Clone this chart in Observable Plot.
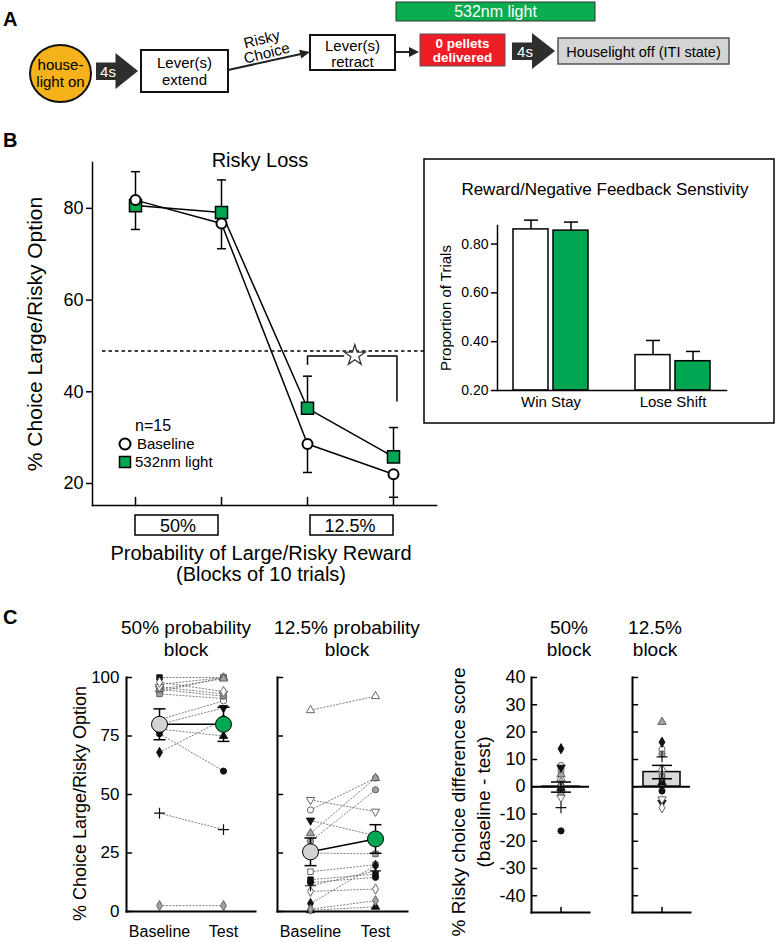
<!DOCTYPE html>
<html><head><meta charset="utf-8">
<script src="https://cdn.jsdelivr.net/npm/d3@7"></script>
<script src="https://cdn.jsdelivr.net/npm/@observablehq/plot@0.6"></script>
<style>
html,body{margin:0;padding:0;background:#fff;}
#fig{position:relative;width:775px;height:942px;overflow:hidden;background:#fff;font-family:'Liberation Sans',Arial,Helvetica,sans-serif;}
</style></head><body><div id="fig"></div>
<script>
// ---------------- DATA ----------------
// Panel B: risky choice per probability block (two choice points per block)
const bPoints = [1, 2, 3, 4];
const bBlockLabels = ["50%", "12.5%"];
const bBaseline = [81.8, 76.7, 28.6, 22.0];
const bBaselineSem = [6.4, 5.5, 6.2, 5.0];
const bLight = [80.6, 79.1, 36.4, 25.8];
const bLightSem = [7.4, 7.1, 7.0, 6.4];
const bChance = 48.9;
const bYTicks = [20, 40, 60, 80];
const bSigBracketL = [{x: 3, y: 46.0}, {x: 3, y: 47.8}, {x: 3.42, y: 47.8}];
const bSigBracketR = [{x: 3.70, y: 47.8}, {x: 4.04, y: 47.8}, {x: 4.04, y: 38.0}];
const bSigStar = [{x: 3.55, y: 47.9}];

// Inset: reward / negative feedback sensitivity
const fbCategories = ["Win Stay", "Lose Shift"];
const fbBaseline = [0.86, 0.345];
const fbBaselineSem = [0.038, 0.06];
const fbLight = [0.855, 0.32];
const fbLightSem = [0.035, 0.04];
const fbTicks = [0.2, 0.4, 0.6, 0.8];

// Panel C: individual subjects (15 rats)
const subjShape = ["square","square","square","circle","circle","circle","triangle","triangle","triangle","triangleDown","triangleDown","diamond","diamond","diamond","plus"];
const subjTone  = ["black","white","gray","black","white","gray","black","white","gray","black","white","black","white","gray","black"];
const conditions = ["Baseline", "Test"];
const base50 = [100, 94, 93, 76, 82, 95, 78, 97, 95, 80, 96, 68, 98, 2.5, 42];
const test50 = [100, 100, 91, 60, 90, 92, 75, 100, 99.5, 87, 93, 82, 94, 2.5, 35];
const mean50 = [80, 80];
const sem50 = [6.6, 7.3];
const base125 = [13.6, 17.0, 25.0, 12.4, 43.4, 30.0, 0.5, 86.0, 33.4, 38.9, 47.7, 3.4, 8.6, 1.0, 11.0];
const test125 = [16.0, 20.0, 24.6, 14.6, 57.0, 52.0, 2.0, 92.0, 57.0, 32.4, 42.7, 19.7, 9.6, 4.6, 17.4];
const mean125 = [25.5, 31.0];
const sem125 = [5.9, 6.1];
const cTicks = [0, 25, 50, 75, 100];

// Difference scores
const diffBlocks = ["50%", "12.5%"];
const diff50 = [0, 6, -1.6, -16.2, 7.8, -2.8, -0.5, 3, 4.5, 7, -4, 13.9, 1.5, 0.5, -7.7];
const diff125 = [2.7, 5.1, 0.6, -1.6, 13.7, 12, 1.5, 6.5, 23.7, -5.9, -4.6, 16.3, -7.7, 3.9, 10.9];
const diffMean = [-0.15, 5.35];
const diffSem = [1.85, 2.45];
const dTicks = [-40, -30, -20, -10, 0, 10, 20, 30, 40];

// ---------------- STYLE HELPERS ----------------
const FONT = "'Liberation Sans', Arial, Helvetica, sans-serif";
const GREEN = "#00a651";
const SVGSTYLE = `background:transparent;overflow:visible;font-family:${FONT};color:black;`;
const toneFill = {black: "#111", gray: "#a3a3a3", white: "#fff"};
const toneStroke = {black: "#111", gray: "#555", white: "#555"};
const shapeSymbol = {circle: "circle", square: "square", triangle: "triangle", triangleDown: "triangle", diamond: "diamond", plus: "plus"};
const capSym = {draw(ctx, size) { const w = Math.sqrt(size / Math.PI); ctx.moveTo(-w, 0); ctx.lineTo(w, 0); }};
const tickRight = {draw(ctx, l) { ctx.moveTo(0, 0); ctx.lineTo(l, 0); }};
const tickUp = {draw(ctx, l) { ctx.moveTo(0, 0); ctx.lineTo(0, -l); }};

const fig = document.getElementById("fig");
function place(el, left, top) {
  el.style.position = "absolute"; el.style.left = left + "px"; el.style.top = top + "px"; el.style.margin = "0";
  fig.appendChild(el); return el;
}
function subjectDots(rows, xAcc, yAcc) {
  return ["square","circle","triangle","triangleDown","diamond","plus"].map(s => Plot.dot(rows.filter(d => d.shape === s), {
    x: xAcc, y: yAcc, symbol: shapeSymbol[s], rotate: s === "triangleDown" ? 180 : 0,
    r: s === "plus" ? 3.6 : 3.1,
    fill: s === "plus" ? "none" : d => toneFill[d.tone],
    stroke: d => toneStroke[d.tone], strokeWidth: s === "plus" ? 1.2 : 0.9
  }));
}
function yTitle(text, dx, dy, fontSize) {
  return Plot.text([text], {frameAnchor: "left", rotate: -90, textAnchor: "middle", lineAnchor: "middle", dx, dy, fontSize});
}

// ---------------- PANEL B ----------------
const bRows = bPoints.map((p, i) => ({p, base: bBaseline[i], baseSem: bBaselineSem[i], light: bLight[i], lightSem: bLightSem[i]}));
const plotB = Plot.plot({
  width: 440, height: 380, marginLeft: 92, marginRight: 4, marginTop: 22, marginBottom: 15,
  style: SVGSTYLE,
  x: {domain: [0.5, 4.5], axis: null},
  y: {domain: [15.2, 90], axis: null},
  marks: [
    Plot.ruleY([bChance], {stroke: "black", strokeWidth: 1.6, strokeDasharray: "3.5,3", insetLeft: 10}),
    Plot.frame({anchor: "left", strokeWidth: 1.5}),
    Plot.frame({anchor: "bottom", strokeWidth: 1.5}),
    Plot.axisY({ticks: bYTicks, tickSize: 6, tickPadding: 3, fontSize: 18, label: null, tickFormat: d => String(d), strokeWidth: 1.5}),
    Plot.vector(bPoints, {x: d => d, frameAnchor: "bottom", length: 8, anchor: "start", shape: tickUp, stroke: "black", strokeWidth: 1.5}),
    yTitle("% Choice Large/Risky Option", -57, 0, 21),
    Plot.ruleX(bRows, {x: "p", y1: "light", y2: d => d.light + d.lightSem, strokeWidth: 1.5}),
    Plot.dot(bRows, {x: "p", y: d => d.light + d.lightSem, symbol: capSym, r: 4.5, fill: "none", stroke: "black", strokeWidth: 1.5}),
    Plot.ruleX(bRows, {x: "p", y1: "base", y2: d => d.base - d.baseSem, strokeWidth: 1.5}),
    Plot.dot(bRows, {x: "p", y: d => d.base - d.baseSem, symbol: capSym, r: 4.5, fill: "none", stroke: "black", strokeWidth: 1.5}),
    Plot.line(bRows, {x: "p", y: "light", strokeWidth: 1.5}),
    Plot.line(bRows, {x: "p", y: "base", strokeWidth: 1.5}),
    Plot.dot(bRows, {x: "p", y: "light", symbol: "square", r: 6.8, fill: GREEN, stroke: "black", strokeWidth: 1.5}),
    Plot.dot(bRows, {x: "p", y: "base", symbol: "circle", r: 5, fill: "white", stroke: "black", strokeWidth: 2}),
    Plot.line(bSigBracketL, {x: "x", y: "y", strokeWidth: 1.5}),
    Plot.line(bSigBracketR, {x: "x", y: "y", strokeWidth: 1.5}),
    Plot.dot(bSigStar, {x: "x", y: "y", symbol: "star", r: 6.5, fill: "white", stroke: "#333", strokeWidth: 1.3})
  ]
});
place(plotB, 0, 140);
const bx = plotB.scale("x");
const bxp = v => bx.apply(v);

// ---------------- OVERLAY (diagram, titles, legend) ----------------
const ov = `
<svg xmlns="http://www.w3.org/2000/svg" width="775" height="942" font-family="${FONT.replace(/'/g, "")}" style="position:absolute;left:0;top:0">
 <text x="3" y="26" font-size="20" font-weight="bold">A</text>
 <rect x="396" y="2" width="199" height="19" fill="#0aad4f" stroke="#333" stroke-width="1"/>
 <text x="495.5" y="17" font-size="16" fill="#fff" text-anchor="middle">532nm light</text>
 <ellipse cx="60.5" cy="73.5" rx="30.5" ry="28.5" fill="#f6b21b" stroke="#111" stroke-width="2"/>
 <text x="60.5" y="70" font-size="15" text-anchor="middle">house-</text>
 <text x="60.5" y="87" font-size="15" text-anchor="middle">light on</text>
 <path d="M96,62.5H115.5V53L138,71L115.5,89V80H96Z" fill="#2e2e2e"/>
 <text x="108" y="76.5" font-size="15" fill="#fff" text-anchor="middle">4s</text>
 <rect x="141" y="50" width="87" height="42" fill="#fff" stroke="#111" stroke-width="2"/>
 <text x="184.5" y="68" font-size="15" text-anchor="middle">Lever(s)</text>
 <text x="184.5" y="85" font-size="15" text-anchor="middle">extend</text>
 <line x1="228" y1="70" x2="301" y2="54" stroke="#222" stroke-width="2"/>
 <path d="M310,52L301.2,58.5L299.2,49.7Z" fill="#222"/>
 <text transform="translate(263,44) rotate(-14)" font-size="15" text-anchor="middle">Risky</text>
 <text transform="translate(268,58) rotate(-14)" font-size="15" text-anchor="middle">Choice</text>
 <rect x="310" y="35" width="85" height="35" fill="#fff" stroke="#111" stroke-width="2"/>
 <text x="352.5" y="51" font-size="15" text-anchor="middle">Lever(s)</text>
 <text x="352.5" y="67" font-size="15" text-anchor="middle">retract</text>
 <line x1="395" y1="52" x2="410" y2="52" stroke="#222" stroke-width="2"/>
 <path d="M419,52L409,47L409,57Z" fill="#222"/>
 <rect x="420" y="34" width="85" height="32" fill="#ee1c24" stroke="#555" stroke-width="1"/>
 <text x="462.5" y="47.5" font-size="13.5" font-weight="bold" fill="#fff" text-anchor="middle">0 pellets</text>
 <text x="462.5" y="62" font-size="13.5" font-weight="bold" fill="#fff" text-anchor="middle">delivered</text>
 <path d="M512,42.5H532V33L555,51L532,69V60H512Z" fill="#2e2e2e"/>
 <text x="525" y="56.5" font-size="15" fill="#fff" text-anchor="middle">4s</text>
 <rect x="558" y="38" width="171" height="26" fill="#d4d4d4" stroke="#555" stroke-width="1.5"/>
 <text x="643.5" y="56.5" font-size="14.5" text-anchor="middle">Houselight off (ITI state)</text>

 <text x="3" y="147" font-size="20" font-weight="bold">B</text>
 <text x="260" y="167" font-size="20" text-anchor="middle">Risky Loss</text>
 <text x="135" y="431" font-size="16">n=15</text>
 <circle cx="125" cy="444" r="5.5" fill="#fff" stroke="#000" stroke-width="2"/>
 <text x="137" y="449" font-size="15">Baseline</text>
 <rect x="119.5" y="456.5" width="11" height="11" fill="${GREEN}" stroke="#000" stroke-width="1.5"/>
 <text x="135" y="467" font-size="15">532nm light</text>
 <rect x="${bxp(1)}" y="515" width="${bxp(2) - bxp(1) - 3}" height="20" fill="none" stroke="#000" stroke-width="1.5"/>
 <text x="${(bxp(1) + bxp(2)) / 2}" y="532" font-size="18" text-anchor="middle">${bBlockLabels[0]}</text>
 <rect x="${bxp(3) + 3}" y="515" width="${bxp(4) - bxp(3) - 3}" height="20" fill="none" stroke="#000" stroke-width="1.5"/>
 <text x="${(bxp(3) + bxp(4)) / 2}" y="532" font-size="18" text-anchor="middle">${bBlockLabels[1]}</text>
 <text x="261" y="560" font-size="20" text-anchor="middle">Probability of Large/Risky Reward</text>
 <text x="261" y="581" font-size="20" text-anchor="middle">(Blocks of 10 trials)</text>

 <rect x="424" y="159" width="350" height="264" fill="#fff" stroke="#000" stroke-width="1.5"/>
 <text x="605" y="195" font-size="17" text-anchor="middle">Reward/Negative Feedback Senstivity</text>

 <text x="3" y="624" font-size="20" font-weight="bold">C</text>
 <text x="186" y="634" font-size="19" text-anchor="middle">50% probability</text>
 <text x="186" y="656" font-size="19" text-anchor="middle">block</text>
 <text x="347" y="634" font-size="19" text-anchor="middle">12.5% probability</text>
 <text x="347" y="656" font-size="19" text-anchor="middle">block</text>
 <text x="569" y="634" font-size="19" text-anchor="middle">50%</text>
 <text x="569" y="656" font-size="19" text-anchor="middle">block</text>
 <text x="655" y="634" font-size="19" text-anchor="middle">12.5%</text>
 <text x="655" y="656" font-size="19" text-anchor="middle">block</text>
</svg>`;
const wrap = document.createElement("div");
wrap.innerHTML = ov.trim();
fig.appendChild(wrap.firstElementChild);

// ---------------- INSET ----------------
const fbRows = fbCategories.map((c, i) => ({c, base: fbBaseline[i], baseSem: fbBaselineSem[i], light: fbLight[i], lightSem: fbLightSem[i]}));
const fbMin = 0.2;
const plotFB = Plot.plot({
  width: 306, height: 220, marginLeft: 73, marginRight: 4, marginTop: 25, marginBottom: 30,
  style: SVGSTYLE,
  x: {type: "band", domain: fbCategories, paddingInner: 0.385, paddingOuter: 0.131, axis: null},
  y: {domain: [fbMin, 0.876], axis: null},
  marks: [
    Plot.barY(fbRows, {x: "c", y1: fbMin, y2: "base", insetRight: 40, fill: "white", stroke: "black", strokeWidth: 1.5}),
    Plot.barY(fbRows, {x: "c", y1: fbMin, y2: "light", insetLeft: 40, fill: GREEN, stroke: "black", strokeWidth: 1.5}),
    Plot.ruleX(fbRows, {x: "c", y1: "base", y2: d => d.base + d.baseSem, dx: -20, strokeWidth: 1.5}),
    Plot.dot(fbRows, {x: "c", y: d => d.base + d.baseSem, dx: -20, symbol: capSym, r: 7, fill: "none", stroke: "black", strokeWidth: 1.5}),
    Plot.ruleX(fbRows, {x: "c", y1: "light", y2: d => d.light + d.lightSem, dx: 20, strokeWidth: 1.5}),
    Plot.dot(fbRows, {x: "c", y: d => d.light + d.lightSem, dx: 20, symbol: capSym, r: 7, fill: "none", stroke: "black", strokeWidth: 1.5}),
    Plot.frame({anchor: "left", strokeWidth: 1.5}),
    Plot.frame({anchor: "bottom", strokeWidth: 1.5}),
    Plot.axisY({ticks: fbTicks, tickSize: 6, tickPadding: 3, fontSize: 14, label: null, tickFormat: d => d.toFixed(2), strokeWidth: 1.5}),
    Plot.axisX({tickSize: 0, tickPadding: 6, fontSize: 15, label: null}),
    yTitle("Proportion of Trials", -51, 0, 15)
  ]
});
place(plotFB, 424, 200);

// ---------------- PANEL C (individual) ----------------
function choicePlot({width, marginLeft, base, test, mean, sem, showY}) {
  const rows = base.map((b, i) => ({b, t: test[i], shape: subjShape[i], tone: subjTone[i]}));
  const meanRows = conditions.map((c, k) => ({c, m: mean[k], s: sem[k], fill: k ? GREEN : "#d3d3d3"}));
  const marks = [
    Plot.frame({anchor: "left", strokeWidth: 2}),
    Plot.frame({anchor: "bottom", strokeWidth: 2}),
    Plot.vector(cTicks, {y: d => d, frameAnchor: "left", length: 5, anchor: "start", shape: tickRight, stroke: "black", strokeWidth: 1.5}),
    Plot.axisX({tickSize: 0, tickPadding: 14, fontSize: 16, label: null}),
    Plot.link(rows, {x1: () => conditions[0], y1: "b", x2: () => conditions[1], y2: "t", stroke: "#6f6f6f", strokeWidth: 0.9, strokeDasharray: "2,1.3"}),
    ...subjectDots(rows, () => conditions[0], "b"),
    ...subjectDots(rows, () => conditions[1], "t"),
    Plot.ruleX(meanRows, {x: "c", y1: d => d.m - d.s, y2: d => d.m + d.s, strokeWidth: 1.5}),
    Plot.dot(meanRows, {x: "c", y: d => d.m - d.s, symbol: capSym, r: 6, fill: "none", stroke: "black", strokeWidth: 1.5}),
    Plot.dot(meanRows, {x: "c", y: d => d.m + d.s, symbol: capSym, r: 6, fill: "none", stroke: "black", strokeWidth: 1.5}),
    Plot.line(meanRows, {x: "c", y: "m", strokeWidth: 1.6}),
    Plot.dot(meanRows, {x: "c", y: "m", r: 8, fill: "fill", stroke: "black", strokeWidth: 1})
  ];
  if (showY) {
    marks.push(Plot.axisY({ticks: cTicks, tickSize: 0, tickPadding: 7, fontSize: 17, label: null, tickFormat: d => String(d)}));
    marks.push(yTitle("% Choice Large/Risky Option", -46, 9, 18));
  }
  return Plot.plot({
    width, height: 281, marginLeft, marginRight: 3, marginTop: 17, marginBottom: 30,
    style: SVGSTYLE,
    x: {type: "point", domain: conditions, padding: 0.5, axis: null},
    y: {domain: [0, 100], axis: null},
    color: {type: "identity"},
    marks
  });
}
place(choicePlot({width: 258, marginLeft: 126, base: base50, test: test50, mean: mean50, sem: sem50, showY: true}), 0, 660);
place(choicePlot({width: 160, marginLeft: 27, base: base125, test: test125, mean: mean125, sem: sem125, showY: false}), 250, 660);

// ---------------- PANEL C (difference scores) ----------------
function diffPlot({width, marginLeft, k, values, showY}) {
  const cat = diffBlocks[k];
  const rows = values.map((v, i) => ({v, shape: subjShape[i], tone: subjTone[i]}));
  const m = diffMean[k], s = diffSem[k];
  const marks = [
    Plot.barY([m], {x: () => cat, y: d => d, fill: "#d9d9d9", stroke: "black", strokeWidth: 1.5}),
    Plot.frame({anchor: "left", strokeWidth: 2}),
    Plot.frame({anchor: "bottom", strokeWidth: 2}),
    Plot.vector(dTicks, {y: d => d, frameAnchor: "left", length: 5, anchor: "start", shape: tickRight, stroke: "black", strokeWidth: 1.5}),
    Plot.vector([cat], {x: d => d, frameAnchor: "bottom", length: 5, anchor: "start", shape: tickUp, stroke: "black", strokeWidth: 1.5}),
    ...subjectDots(rows, () => cat, "v"),
    Plot.ruleY([0], {strokeWidth: 2}),
    Plot.ruleX([m], {x: () => cat, y1: d => d - s, y2: d => d + s, strokeWidth: 1.5}),
    Plot.dot([m - s, m + s], {x: () => cat, y: d => d, symbol: capSym, r: 10, fill: "none", stroke: "black", strokeWidth: 1.5})
  ];
  if (showY) {
    marks.push(Plot.axisY({ticks: dTicks, tickSize: 0, tickPadding: 6, fontSize: 18, label: null, tickFormat: d => String(d)}));
    marks.push(yTitle("% Risky choice difference score", -73, 7, 19));
    marks.push(yTitle("(baseline - test)", -48, 7, 19));
  }
  return Plot.plot({
    width, height: 262, marginLeft, marginRight: 6, marginTop: 17, marginBottom: 10,
    style: SVGSTYLE,
    x: {type: "band", domain: [cat], padding: 0.22, axis: null},
    y: {domain: [-46.1, 40], axis: null},
    color: {type: "identity"},
    marks
  });
}
place(diffPlot({width: 155, marginLeft: 91, k: 0, values: diff50, showY: true}), 440, 660);
place(diffPlot({width: 96, marginLeft: 32, k: 1, values: diff125, showY: false}), 600, 660);
</script></body></html>
